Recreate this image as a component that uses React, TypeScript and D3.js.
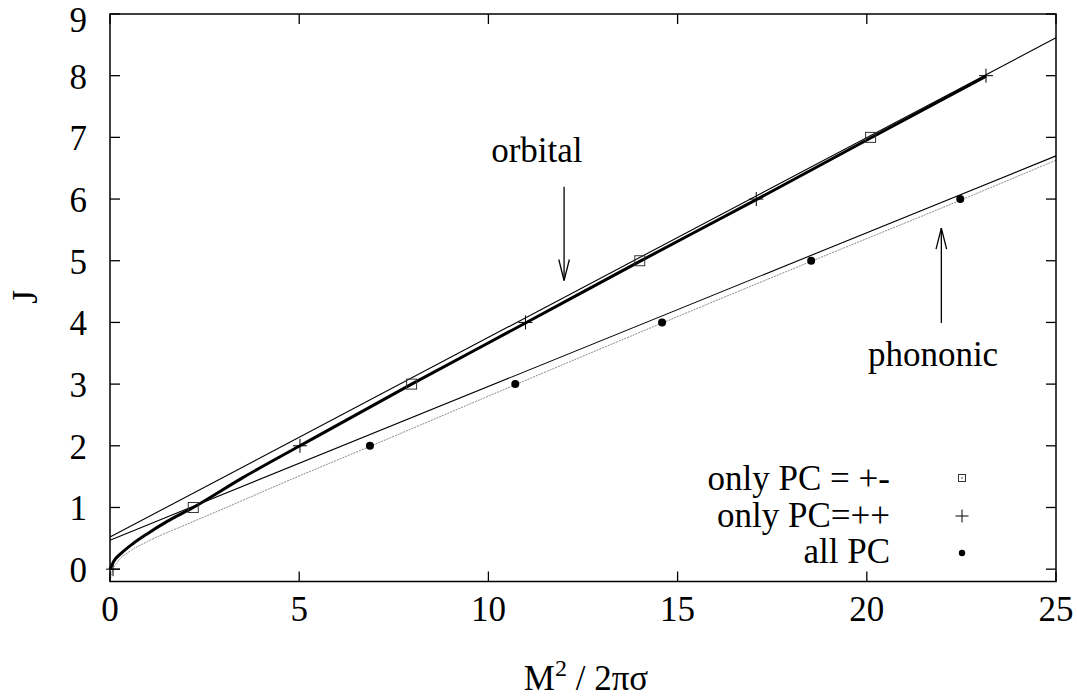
import React from "react";
import * as d3 from "d3";

// ---- data ----
const xTicks = [0, 5, 10, 15, 20, 25];
const yTicks = [0, 1, 2, 3, 4, 5, 6, 7, 8, 9];

// only PC = +-  (squares)
const pcPMx = [2.2, 7.97, 14.0, 20.1];
const pcPMj = [1, 3, 5, 7];
// only PC = ++  (plus)
const pcPPx = [0.08, 5.02, 10.98, 17.08, 23.15];
const pcPPj = [0, 2, 4, 6, 8];
// all PC (dots)
const allx = [6.87, 10.71, 14.59, 18.53, 22.47];
const allj = [2, 3, 4, 5, 6];

// orbital curved fit (thick)
const orbCurveX = [0, 0.1, 0.3, 0.62, 1.0, 1.5, 2.2, 3.5, 5.02, 7.97, 10.98, 14.0, 17.08, 20.1, 23.15];
const orbCurveJ = [0, 0.13, 0.26, 0.42, 0.58, 0.77, 1.0, 1.48, 2.0, 3.0, 3.99, 4.99, 5.99, 6.99, 7.99];
// phononic curved fit (grey dotted)
const phoCurveX = [0, 0.05, 0.2, 0.5, 1.0, 2.0, 3.0, 4.5, 6.87, 10.71, 14.59, 18.53, 22.47, 25];
const phoCurveJ = [-0.2, -0.05, 0.12, 0.28, 0.45, 0.72, 0.98, 1.38, 1.99, 2.99, 3.99, 4.99, 5.98, 6.63];
// linear fits
const orbLineX = [0, 25];
const orbLineJ = [0.52, 8.615];
const phoLineX = [0, 25];
const phoLineJ = [0.47, 6.7];

// annotations
const orbArrow = { x: 12.0, from: 6.2, to: 4.68 };
const phoArrow = { x: 21.97, from: 3.99, to: 5.53 };
const orbLabel = { x: 11.28, j: 6.6, text: "orbital" };
const phoLabel = { x: 21.75, j: 3.3, text: "phononic" };

const legendLabels = ["only PC = +-", "only PC=++", "all PC"];

const W = 1077;
const H = 700;
const FONT = "'Liberation Serif', 'Times New Roman', serif";
const FS = 35;

export default function App() {
  const x = d3.scaleLinear().domain([0, 25]).range([110, 1056]);
  const y = d3.scaleLinear().domain([-0.2, 9]).range([581.5, 14]);
  const zip = (xs: number[], js: number[]) => xs.map((v, i) => [v, js[i]] as [number, number]);
  const line = d3
    .line<[number, number]>()
    .x((d) => x(d[0]))
    .y((d) => y(d[1]));
  const curve = d3
    .line<[number, number]>()
    .x((d) => x(d[0]))
    .y((d) => y(d[1]))
    .curve(d3.curveMonotoneX);

  const [x0, x1] = x.range();
  const [y0, y1] = y.range();
  const tl = 10;

  const arrow = (a: { x: number; from: number; to: number }, key: string) => {
    const ax = x(a.x);
    const ya = y(a.from);
    const yb = y(a.to);
    const dir = yb > ya ? 1 : -1;
    const hl = 21;
    const hw = 5.3;
    return (
      <g key={key} stroke="#000" strokeWidth={1.3} fill="none">
        <line x1={ax} y1={ya} x2={ax} y2={yb} />
        <polyline points={`${ax - hw},${yb - dir * hl} ${ax},${yb} ${ax + hw},${yb - dir * hl}`} />
      </g>
    );
  };

  const legendRight = 890;
  const legendSymX = 962;
  const legendBase = [490, 527, 563];
  const legendSymY = [478, 516, 553];

  return (
    <svg
      width={W}
      height={H}
      style={{ position: "absolute", left: 0, top: 0, background: "#fff" }}
      fontFamily={FONT}
    >
      <rect x={0} y={0} width={W} height={H} fill="#fff" />
      {/* fits */}
      <path d={curve(zip(phoCurveX, phoCurveJ)) || ""} fill="none" stroke="#8a8a8a" strokeWidth={1} strokeDasharray="2,1" />
      <path d={line(zip(phoLineX, phoLineJ)) || ""} fill="none" stroke="#000" strokeWidth={1.1} />
      <path d={line(zip(orbLineX, orbLineJ)) || ""} fill="none" stroke="#000" strokeWidth={1.1} />
      <path d={curve(zip(orbCurveX, orbCurveJ)) || ""} fill="none" stroke="#000" strokeWidth={3} />

      {/* points */}
      {pcPMx.map((v, i) => (
        <rect key={"s" + i} x={x(v) - 5} y={y(pcPMj[i]) - 5} width={10} height={10} fill="none" stroke="#333" strokeWidth={1} />
      ))}
      {pcPPx.map((v, i) => (
        <g key={"p" + i} stroke="#000" strokeWidth={1}>
          <line x1={x(v) - 7} y1={y(pcPPj[i])} x2={x(v) + 7} y2={y(pcPPj[i])} />
          <line x1={x(v)} y1={y(pcPPj[i]) - 7} x2={x(v)} y2={y(pcPPj[i]) + 7} />
        </g>
      ))}
      {allx.map((v, i) => (
        <circle key={"c" + i} cx={x(v)} cy={y(allj[i])} r={4} fill="#000" />
      ))}

      {/* frame */}
      <rect x={x0} y={y1} width={x1 - x0} height={y0 - y1} fill="none" stroke="#000" strokeWidth={1.5} />
      {xTicks.map((t) => (
        <g key={"xt" + t}>
          <line x1={x(t)} x2={x(t)} y1={y0} y2={y0 - tl} stroke="#000" strokeWidth={1.3} />
          <line x1={x(t)} x2={x(t)} y1={y1} y2={y1 + tl} stroke="#000" strokeWidth={1.3} />
          <text x={x(t)} y={621} textAnchor="middle" fontSize={FS}>
            {t}
          </text>
        </g>
      ))}
      {yTicks.map((t) => (
        <g key={"yt" + t}>
          <line x1={x0} x2={x0 + tl} y1={y(t)} y2={y(t)} stroke="#000" strokeWidth={1.3} />
          <line x1={x1} x2={x1 - tl} y1={y(t)} y2={y(t)} stroke="#000" strokeWidth={1.3} />
          <text x={87} y={Math.max(y(t) + 13, 31.5)} textAnchor="end" fontSize={FS}>
            {t}
          </text>
        </g>
      ))}

      {/* axis labels */}
      <text x={586} y={690} textAnchor="middle" fontSize={FS}>
        M<tspan dy={-14} fontSize={24}>2</tspan>
        <tspan dy={14}> / 2πσ</tspan>
      </text>
      <text transform="translate(37,297) rotate(-90)" textAnchor="middle" fontSize={FS}>
        J
      </text>

      {/* annotations */}
      {arrow(orbArrow, "oa")}
      {arrow(phoArrow, "pa")}
      <text x={x(orbLabel.x)} y={y(orbLabel.j)} textAnchor="middle" fontSize={FS}>
        {orbLabel.text}
      </text>
      <text x={x(phoLabel.x)} y={y(phoLabel.j)} textAnchor="middle" fontSize={FS}>
        {phoLabel.text}
      </text>

      {/* legend */}
      {legendLabels.map((l, i) => (
        <text key={"lg" + i} x={legendRight} y={legendBase[i]} textAnchor="end" fontSize={FS}>
          {l}
        </text>
      ))}
      <rect x={legendSymX - 3.5} y={legendSymY[0] - 3.5} width={7} height={7} fill="none" stroke="#333" strokeWidth={1} />
      <circle cx={legendSymX} cy={legendSymY[0]} r={0.8} fill="#333" />
      <g stroke="#000" strokeWidth={1}>
        <line x1={legendSymX - 6.5} x2={legendSymX + 6.5} y1={legendSymY[1]} y2={legendSymY[1]} />
        <line x1={legendSymX} x2={legendSymX} y1={legendSymY[1] - 6.5} y2={legendSymY[1] + 6.5} />
      </g>
      <circle cx={legendSymX} cy={legendSymY[2]} r={3.2} fill="#000" />
    </svg>
  );
}
